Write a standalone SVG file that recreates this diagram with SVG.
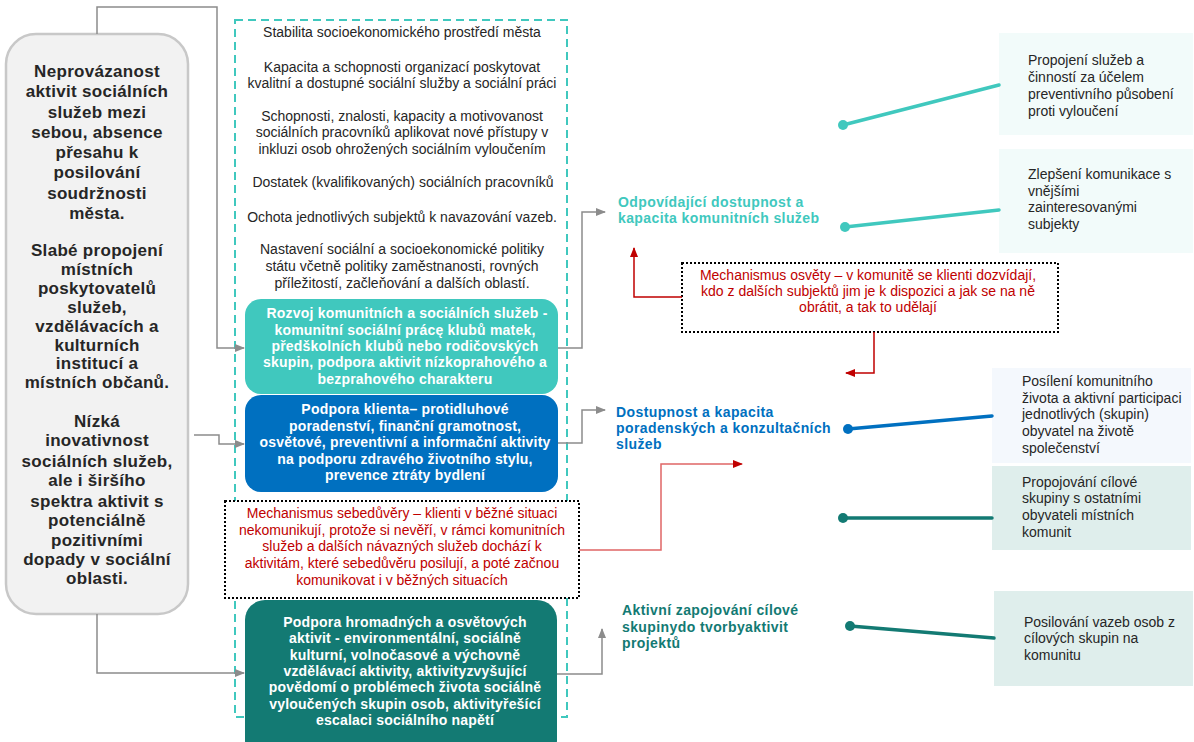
<svg xmlns="http://www.w3.org/2000/svg" width="1194" height="742" viewBox="0 0 1194 742">
<defs>
<style>
text{font-family:"Liberation Sans",Arial,sans-serif;font-size:14px}
.c{text-anchor:middle}
.dk{fill:#262626}
.bw{fill:#fff;font-weight:bold;letter-spacing:0.2px}
.lb{font-weight:bold;font-size:17px;fill:#262626;letter-spacing:0.3px}
.red{fill:#C00000}
.out{font-weight:bold;letter-spacing:0.4px}
.g{fill:none;stroke:#8c8c8c;stroke-width:1.5}
.r{fill:none;stroke:#C00000;stroke-width:1.5}
.dot{fill:#fff;stroke:#000;stroke-width:2;stroke-dasharray:2 2}
</style>
<marker id="ag" markerWidth="10" markerHeight="8" refX="9" refY="4" orient="auto" markerUnits="userSpaceOnUse"><path d="M0,0 L10,4 L0,8 Z" fill="#8c8c8c"/></marker>
<marker id="ar" markerWidth="10" markerHeight="8" refX="9" refY="4" orient="auto" markerUnits="userSpaceOnUse"><path d="M0,0 L10,4 L0,8 Z" fill="#C00000"/></marker>
</defs>
<rect x="0" y="0" width="1194" height="742" fill="#fff"/>

<g id="left-box">
<rect x="6" y="34" width="182" height="580" rx="30" fill="#f2f2f2" stroke="#c8c8c8" stroke-width="2.5"/>
<text class="lb c" x="97" y="77">Neprovázanost</text>
<text class="lb c" x="97" y="97">aktivit sociálních</text>
<text class="lb c" x="97" y="118">služeb mezi</text>
<text class="lb c" x="97" y="138">sebou, absence</text>
<text class="lb c" x="97" y="158">přesahu k</text>
<text class="lb c" x="97" y="178">posilování</text>
<text class="lb c" x="97" y="199">soudržnosti</text>
<text class="lb c" x="97" y="219">města.</text>
<text class="lb c" x="97" y="256">Slabé propojení</text>
<text class="lb c" x="97" y="275">místních</text>
<text class="lb c" x="97" y="294">poskytovatelů</text>
<text class="lb c" x="97" y="313">služeb,</text>
<text class="lb c" x="97" y="332">vzdělávacích a</text>
<text class="lb c" x="97" y="351">kulturních</text>
<text class="lb c" x="97" y="369">institucí a</text>
<text class="lb c" x="97" y="388">místních občanů.</text>
<text class="lb c" x="97" y="427">Nízká</text>
<text class="lb c" x="97" y="446">inovativnost</text>
<text class="lb c" x="97" y="467">sociálních služeb,</text>
<text class="lb c" x="97" y="486">ale i širšího</text>
<text class="lb c" x="97" y="507">spektra aktivit s</text>
<text class="lb c" x="97" y="526">potenciálně</text>
<text class="lb c" x="97" y="546">pozitivními</text>
<text class="lb c" x="97" y="565">dopady v sociální</text>
<text class="lb c" x="97" y="584">oblasti.</text>
</g>

<g id="context-box">
<rect x="235" y="20" width="332" height="697" fill="none" stroke="#40C8BE" stroke-width="2" stroke-dasharray="8 5"/>
<text class="dk c" x="402" y="37">Stabilita socioekonomického prostředí města</text>
<text class="dk c" x="402" y="72">Kapacita a schopnosti organizací poskytovat</text>
<text class="dk c" x="402" y="88">kvalitní a dostupné sociální služby a sociální práci</text>
<text class="dk c" x="402" y="121">Schopnosti, znalosti, kapacity a motivovanost</text>
<text class="dk c" x="402" y="137">sociálních pracovníků aplikovat nové přístupy v</text>
<text class="dk c" x="402" y="154">inkluzi osob ohrožených sociálním vyloučením</text>
<text class="dk c" x="403" y="187">Dostatek (kvalifikovaných) sociálních pracovníků</text>
<text class="dk c" x="402" y="222">Ochota jednotlivých subjektů k navazování vazeb.</text>
<text class="dk c" x="402" y="254">Nastavení sociální a socioekonomické politiky</text>
<text class="dk c" x="402" y="271">státu včetně politiky zaměstnanosti, rovných</text>
<text class="dk c" x="402" y="288">příležitostí, začleňování a dalších oblastí.</text>
</g>

<g id="activity-1">
<rect x="245" y="299" width="313" height="95" rx="16" fill="#40C8BE"/>
<text class="bw c" x="407" y="318">Rozvoj komunitních a sociálních služeb -</text>
<text class="bw c" x="405" y="335">komunitní sociální prácę klubů matek,</text>
<text class="bw c" x="405" y="351">předškolních klubů nebo rodičovských</text>
<text class="bw c" x="405" y="367">skupin, podpora aktivit nízkoprahového a</text>
<text class="bw c" x="405" y="384">bezprahového charakteru</text>
</g>

<g id="activity-2">
<rect x="245" y="395" width="313" height="97" rx="16" fill="#0070C0"/>
<text class="bw c" x="405" y="414">Podpora klienta– protidluhové</text>
<text class="bw c" x="405" y="431">poradenství, finanční gramotnost,</text>
<text class="bw c" x="405" y="447">osvětové, preventivní a informační aktivity</text>
<text class="bw c" x="405" y="464">na podporu zdravého životního stylu,</text>
<text class="bw c" x="405" y="480">prevence ztráty bydlení</text>
</g>

<g id="mechanism-1">
<rect x="225" y="501" width="354" height="97" class="dot"/>
<text class="red c" x="402" y="518">Mechanismus sebedůvěry – klienti v běžné situaci</text>
<text class="red c" x="402" y="535">nekomunikují, protože si nevěří, v rámci komunitních</text>
<text class="red c" x="402" y="551">služeb a dalších návazných služeb dochází k</text>
<text class="red c" x="402" y="568">aktivitám, které sebedůvěru posilují, a poté začnou</text>
<text class="red c" x="402" y="585">komunikovat i v běžných situacích</text>
</g>

<g id="activity-3">
<rect x="245" y="600" width="312" height="160" rx="20" fill="#137A73"/>
<text class="bw c" x="405" y="627">Podpora hromadných a osvětových</text>
<text class="bw c" x="405" y="643">aktivit - environmentální, sociálně</text>
<text class="bw c" x="405" y="660">kulturní, volnočasové a výchovně</text>
<text class="bw c" x="405" y="676">vzdělávací aktivity, aktivityzvyšující</text>
<text class="bw c" x="405" y="692">povědomí o problémech života sociálně</text>
<text class="bw c" x="405" y="709">vyloučených skupin osob, aktivityřešící</text>
<text class="bw c" x="405" y="725">escalaci sociálního napětí</text>
</g>

<g id="outcome-1">
<text class="out" x="618" y="207" fill="#40C8BE">Odpovídající dostupnost a</text>
<text class="out" x="618" y="223" fill="#40C8BE">kapacita komunitních služeb</text>
</g>
<g id="outcome-2">
<text class="out" x="616" y="417" fill="#0070C0">Dostupnost a kapacita</text>
<text class="out" x="616" y="433" fill="#0070C0">poradenských a konzultačních</text>
<text class="out" x="616" y="449" fill="#0070C0">služeb</text>
</g>
<g id="outcome-3">
<text class="out" x="622" y="615" fill="#137A73">Aktivní zapojování cílové</text>
<text class="out" x="622" y="632" fill="#137A73">skupinydo tvorbyaktivit</text>
<text class="out" x="622" y="648" fill="#137A73">projektů</text>
</g>

<g id="mechanism-2">
<rect x="682" y="263" width="376" height="69" class="dot"/>
<text class="red c" x="868" y="280">Mechanismus osvěty – v komunitě se klienti dozvídají,</text>
<text class="red c" x="868" y="296">kdo z dalších subjektů jim je k dispozici a jak se na ně</text>
<text class="red c" x="868" y="312">obrátit, a tak to udělají</text>
</g>

<g id="impact-1">
<rect x="999" y="33" width="194" height="102" fill="#F2FBFA"/>
<text class="dk" x="1028" y="65">Propojení služeb a</text>
<text class="dk" x="1028" y="82">činností za účelem</text>
<text class="dk" x="1028" y="99">preventivního působení</text>
<text class="dk" x="1028" y="116">proti vyloučení</text>
</g>
<g id="impact-2">
<rect x="999" y="149" width="194" height="104" fill="#F2FBFA"/>
<text class="dk" x="1028" y="179">Zlepšení komunikace s</text>
<text class="dk" x="1028" y="196">vnějšími</text>
<text class="dk" x="1028" y="212">zainteresovanými</text>
<text class="dk" x="1028" y="229">subjekty</text>
</g>
<g id="impact-3">
<rect x="992" y="368" width="199" height="95" fill="#F4F8FD"/>
<text class="dk" x="1022" y="386">Posílení komunitního</text>
<text class="dk" x="1022" y="403">života a aktivní participaci</text>
<text class="dk" x="1022" y="419">jednotlivých (skupin)</text>
<text class="dk" x="1022" y="436">obyvatel na životě</text>
<text class="dk" x="1022" y="453">společenství</text>
</g>
<g id="impact-4">
<rect x="992" y="466" width="199" height="84" fill="#DFEEEC"/>
<text class="dk" x="1022" y="487">Propojování cílové</text>
<text class="dk" x="1022" y="503">skupiny s ostatními</text>
<text class="dk" x="1022" y="520">obyvateli místních</text>
<text class="dk" x="1022" y="537">komunit</text>
</g>
<g id="impact-5">
<rect x="994" y="591" width="199" height="95" fill="#DFEEEC"/>
<text class="dk" x="1024" y="627">Posilování vazeb osob z</text>
<text class="dk" x="1024" y="643">cílových skupin na</text>
<text class="dk" x="1024" y="660">komunitu</text>
</g>

<g id="connectors">
<path class="g" d="M97,34 V7 H217 V348 H244" marker-end="url(#ag)"/>
<path class="g" d="M194,435 H219 V444 H244" marker-end="url(#ag)"/>
<path class="g" d="M97,614 V673 H244" marker-end="url(#ag)"/>
<path class="g" d="M558,348 H582 V212 H605" marker-end="url(#ag)"/>
<path class="g" d="M558,443 H582 V410 H605" marker-end="url(#ag)"/>
<path class="g" d="M557,674 H602 V629" marker-end="url(#ag)"/>
<path class="r" d="M682,297 H634 V248" marker-end="url(#ar)"/>
<path class="r" d="M874,332 V373 H846" marker-end="url(#ar)"/>
<path fill="none" stroke="#E06666" stroke-width="1.5" d="M579,550 H661 V464 H742" marker-end="url(#ar)"/>
<g stroke-width="3.5" stroke-linecap="round">
<line x1="843" y1="125" x2="999" y2="85" stroke="#40C8BE"/>
<circle cx="843" cy="125" r="5" fill="#40C8BE" stroke="none"/>
<line x1="845" y1="227" x2="999" y2="210" stroke="#40C8BE"/>
<circle cx="845" cy="227" r="5" fill="#40C8BE" stroke="none"/>
<line x1="848" y1="429" x2="992" y2="416" stroke="#0070C0"/>
<circle cx="848" cy="429" r="5" fill="#0070C0" stroke="none"/>
<line x1="843" y1="518" x2="992" y2="518" stroke="#137A73"/>
<circle cx="843" cy="518" r="5" fill="#137A73" stroke="none"/>
<line x1="850" y1="626" x2="994" y2="638" stroke="#137A73"/>
<circle cx="850" cy="626" r="5" fill="#137A73" stroke="none"/>
</g>
</g>
</svg>
